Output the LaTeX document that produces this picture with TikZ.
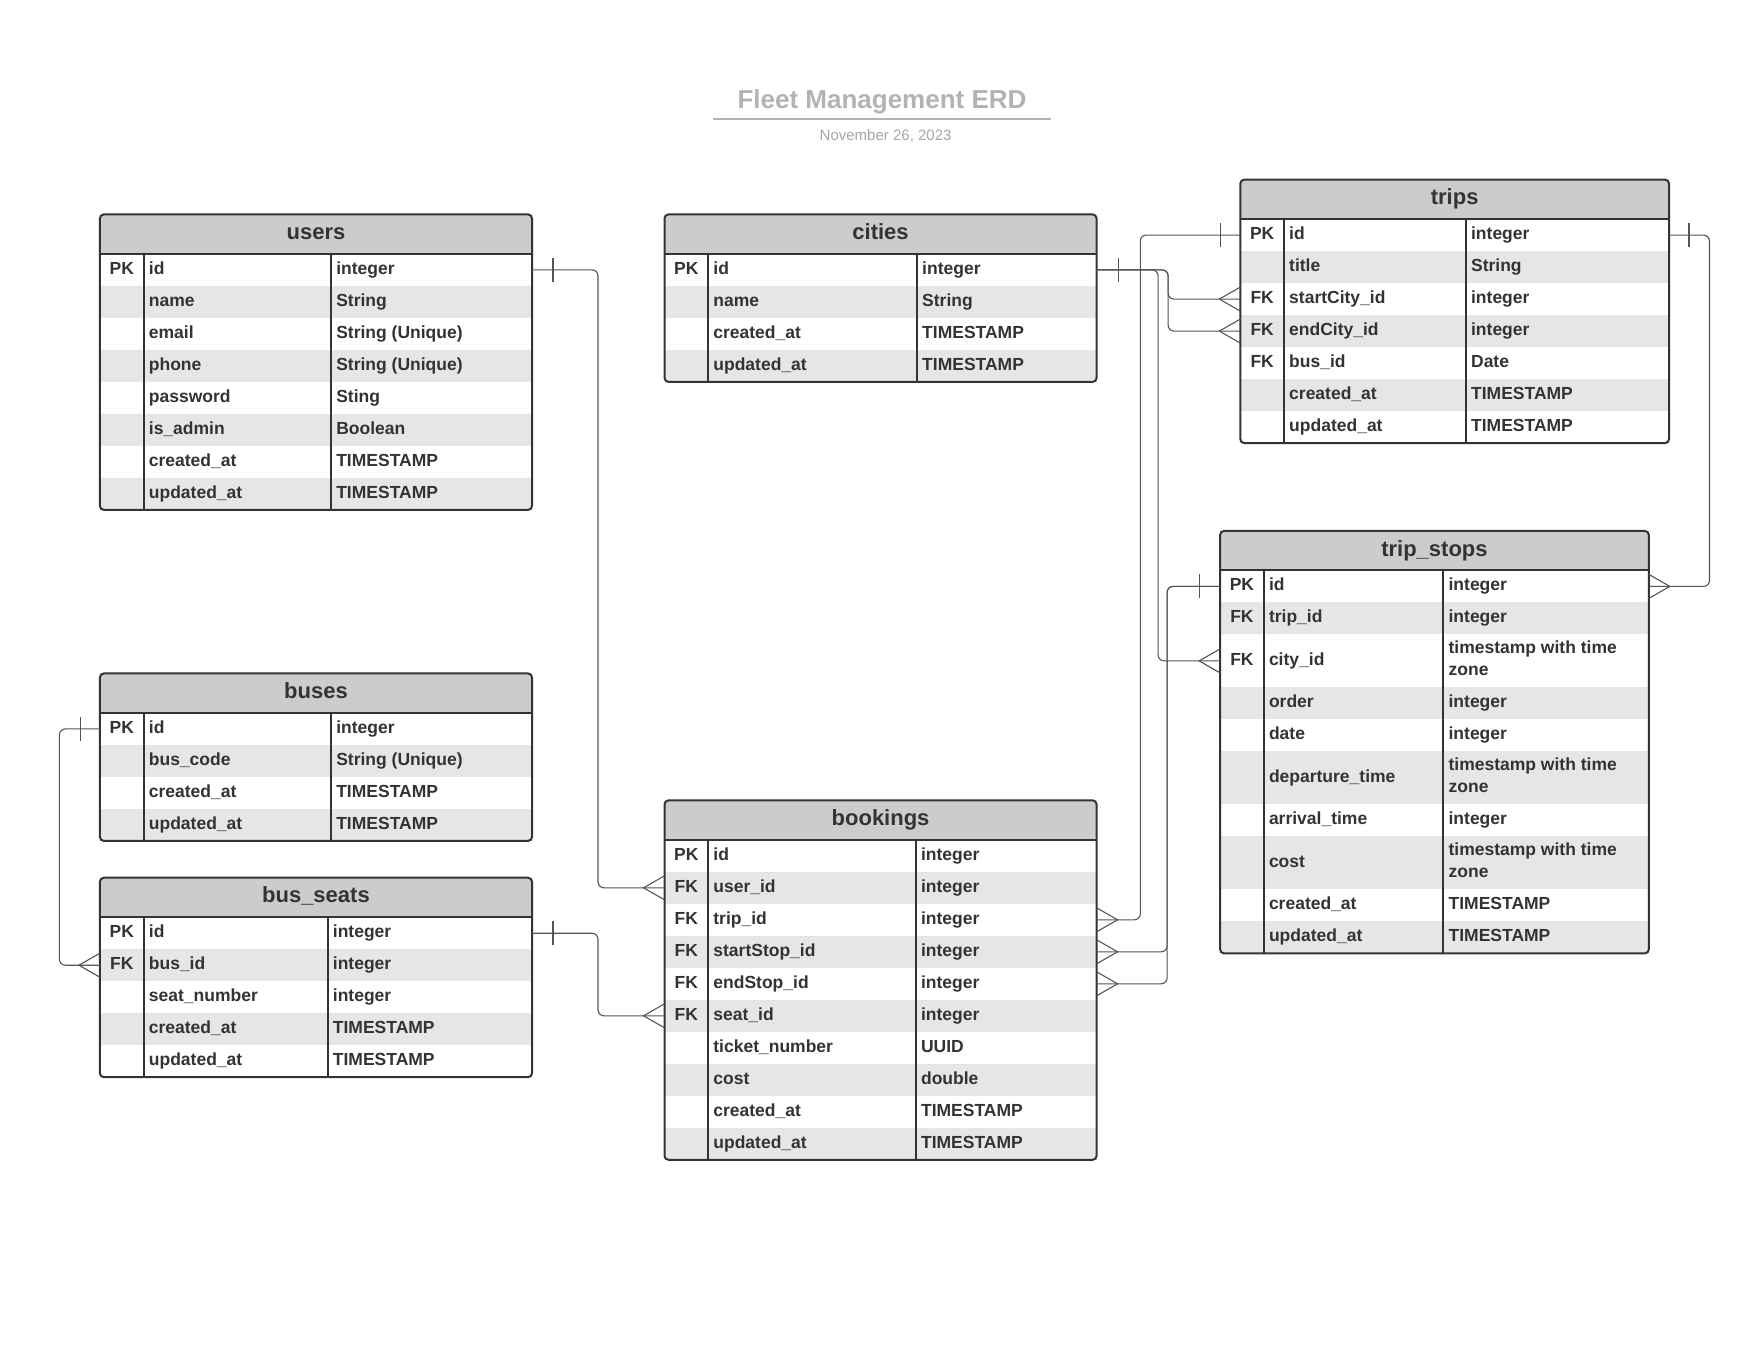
\documentclass[tikz,border=0pt]{standalone}
\usepackage{fontspec}
\setmainfont{Liberation Sans}
\usetikzlibrary{calc}

\definecolor{ink}{HTML}{333333}
\definecolor{headgray}{HTML}{CCCCCC}
\definecolor{rowgray}{HTML}{E6E6E6}
\definecolor{wire}{HTML}{555555}
\definecolor{titlegray}{HTML}{B3B3B3}
\definecolor{dategray}{HTML}{A6A6A6}

\tikzset{
  frame/.style={draw=ink, line width=2pt},
  rowcell/.style={rectangle, inner sep=0pt, outer sep=0pt, draw=none},
  hdrtxt/.style={inner sep=0pt, text=ink, font=\fontsize{22}{26}\selectfont\bfseries},
  celltxt/.style={inner sep=0pt, text=ink, font=\fontsize{17.5}{22.5}\selectfont\bfseries},
  conn/.style={draw=wire, line width=1.1pt, rounded corners=6pt},
  wireline/.style={draw=wire, line width=1.1pt},
  titletxt/.style={inner sep=0pt, text=titlegray, font=\fontsize{26}{30}\selectfont\bfseries},
  datetxt/.style={inner sep=0pt, text=dategray, font=\fontsize{15}{18}\selectfont},
}

\def\hdrh{39.5}

% #1 name, #2 left, #3 top, #4 width, #5 key column width,
% #6 offset of the type column, #7 title, #8 rows key/field/type/height
\newcommand{\erdtable}[8]{%
  \fill[headgray, rounded corners=4pt] (#2,#3) rectangle (#2+#4,#3+\hdrh);
  \node[rowcell, minimum width=#4, minimum height=\hdrh, anchor=north west] (#1) at (#2,#3) {};
  \node[hdrtxt, anchor=base] (#1-title) at (#2+#4/2, #3+\hdrh/2+5.5) {#7};
  \pgfmathsetmacro\rowy{#3+\hdrh}\global\let\rowy\rowy
  \foreach \kk/\ff/\ty/\rh [count=\i] in {#8} {
    \pgfmathsetmacro\cy{\rowy+\rh/2}
    \ifodd\i\relax\def\rowfill{white}\else\def\rowfill{rowgray}\fi
    \node[rowcell, fill=\rowfill, minimum width=#4, minimum height=\rh, anchor=north west] (#1-\i) at (#2,\rowy) {};
    \node[celltxt, anchor=base] (#1-\i-key) at (#2+#5/2, \cy+4.5) {\kk};
    \node[celltxt, anchor=base west] (#1-\i-field) at (#2+#5+5, \cy+4.5) {\ff};
    \ifdim\rh pt>40pt
      \node[celltxt, align=left, anchor=west] (#1-\i-type) at (#2+#6+5, \cy-2.5) {\ty};
    \else
      \node[celltxt, anchor=base west] (#1-\i-type) at (#2+#6+5, \cy+4.5) {\ty};
    \fi
    \pgfmathsetmacro\nexty{\rowy+\rh}\global\let\rowy\nexty
  }
  \draw[frame] (#2+#5,#3+\hdrh) -- (#2+#5,\rowy);
  \draw[frame] (#2+#6,#3+\hdrh) -- (#2+#6,\rowy);
  \draw[frame] (#2,#3+\hdrh) -- (#2+#4,#3+\hdrh);
  \draw[frame, rounded corners=4pt] (#2,#3) rectangle (#2+#4,\rowy);
}

% "one" bar across a connector, #2 = signed distance from the table edge
\newcommand{\onebar}[2]{\draw[wireline] ($(#1)+(#2,-12)$) -- ($(#1)+(#2,12)$);}
% "many" crow's foot, #2 = signed distance of its apex from the table edge
\newcommand{\crowfoot}[2]{\draw[wireline] ($(#1)+(0,-12)$) -- ($(#1)+(#2,0)$) -- ($(#1)+(0,12)$);}

\begin{document}
\begin{tikzpicture}[x=1pt,y=-1pt]
\useasboundingbox (0,0) rectangle (1760,1360);
\fill[white] (0,0) rectangle (1760,1360);

% heading
\node[titletxt, anchor=base] (title) at (882,108) {Fleet Management ERD};
\draw[titlegray, line width=2pt] (712.7,119) -- (1050.6,119);
\node[datetxt, anchor=base] (date) at (885.6,140) {November 26, 2023};

% tables
\erdtable{users}{99.9}{214.4}{432.1}{43.8}{231.2}{users}{%
  PK/id/integer/32, /name/String/32, /email/String (Unique)/32,
  /phone/String (Unique)/32, /password/Sting/32, /is\_admin/Boolean/32,
  /created\_at/TIMESTAMP/32, /updated\_at/TIMESTAMP/32}

\erdtable{cities}{664.5}{214.4}{432.1}{43.7}{252.5}{cities}{%
  PK/id/integer/32, /name/String/32, /created\_at/TIMESTAMP/32, /updated\_at/TIMESTAMP/32}

\erdtable{trips}{1240.3}{179.6}{428.7}{43.7}{225.6}{trips}{%
  PK/id/integer/32, /title/String/32, FK/startCity\_id/integer/32,
  FK/endCity\_id/integer/32, FK/bus\_id/Date/32,
  /created\_at/TIMESTAMP/32, /updated\_at/TIMESTAMP/32}

\erdtable{tripstops}{1220.1}{530.9}{428.7}{43.7}{223.3}{trip\_stops}{%
  PK/id/integer/32, FK/trip\_id/integer/32,
  FK/city\_id/timestamp with time\\zone/53, /order/integer/32, /date/integer/32,
  /departure\_time/timestamp with time\\zone/53, /arrival\_time/integer/32,
  /cost/timestamp with time\\zone/53, /created\_at/TIMESTAMP/32, /updated\_at/TIMESTAMP/32}

\erdtable{buses}{99.9}{673.4}{432.1}{43.8}{231.2}{buses}{%
  PK/id/integer/32, /bus\_code/String (Unique)/32,
  /created\_at/TIMESTAMP/32, /updated\_at/TIMESTAMP/32}

\erdtable{busseats}{99.9}{877.7}{432.1}{43.8}{227.8}{bus\_seats}{%
  PK/id/integer/32, FK/bus\_id/integer/32, /seat\_number/integer/32,
  /created\_at/TIMESTAMP/32, /updated\_at/TIMESTAMP/32}

\erdtable{bookings}{664.5}{800.3}{432.1}{43.7}{251.4}{bookings}{%
  PK/id/integer/32, FK/user\_id/integer/32, FK/trip\_id/integer/32,
  FK/startStop\_id/integer/32, FK/endStop\_id/integer/32, FK/seat\_id/integer/32,
  /ticket\_number/UUID/32, /cost/double/32, /created\_at/TIMESTAMP/32,
  /updated\_at/TIMESTAMP/32}

% relationships
\draw[conn] (users-1.east) -- ++(66,0) |- (bookings-2.west);
\onebar{users-1.east}{21}
\crowfoot{bookings-2.west}{-21}

\draw[conn] (buses-1.west) -- ++(-40.5,0) |- (busseats-2.west);
\onebar{buses-1.west}{-19}
\crowfoot{busseats-2.west}{-21}

\draw[conn] (busseats-1.east) -- ++(66,0) |- (bookings-6.west);
\onebar{busseats-1.east}{21}
\crowfoot{bookings-6.west}{-21}

\draw[conn] (cities-1.east) -- ++(71.5,0) |- (trips-3.west);
\draw[conn] (cities-1.east) -- ++(71.5,0) |- (trips-4.west);
\draw[conn] (cities-1.east) -- ++(61.5,0) |- (tripstops-3.west);
\onebar{cities-1.east}{22}
\crowfoot{trips-3.west}{-21}
\crowfoot{trips-4.west}{-21}
\crowfoot{tripstops-3.west}{-21}

\draw[conn] (trips-1.west) -- ++(-100,0) |- (bookings-3.east);
\onebar{trips-1.west}{-20}
\crowfoot{bookings-3.east}{21}

\draw[conn] (trips-1.east) -- ++(40.5,0) |- (tripstops-1.east);
\onebar{trips-1.east}{20}
\crowfoot{tripstops-1.east}{21}

\draw[conn] (tripstops-1.west) -- ++(-53,0) |- (bookings-4.east);
\draw[conn] (tripstops-1.west) -- ++(-53,0) |- (bookings-5.east);
\onebar{tripstops-1.west}{-21}
\crowfoot{bookings-4.east}{21}
\crowfoot{bookings-5.east}{21}

\end{tikzpicture}
\end{document}
